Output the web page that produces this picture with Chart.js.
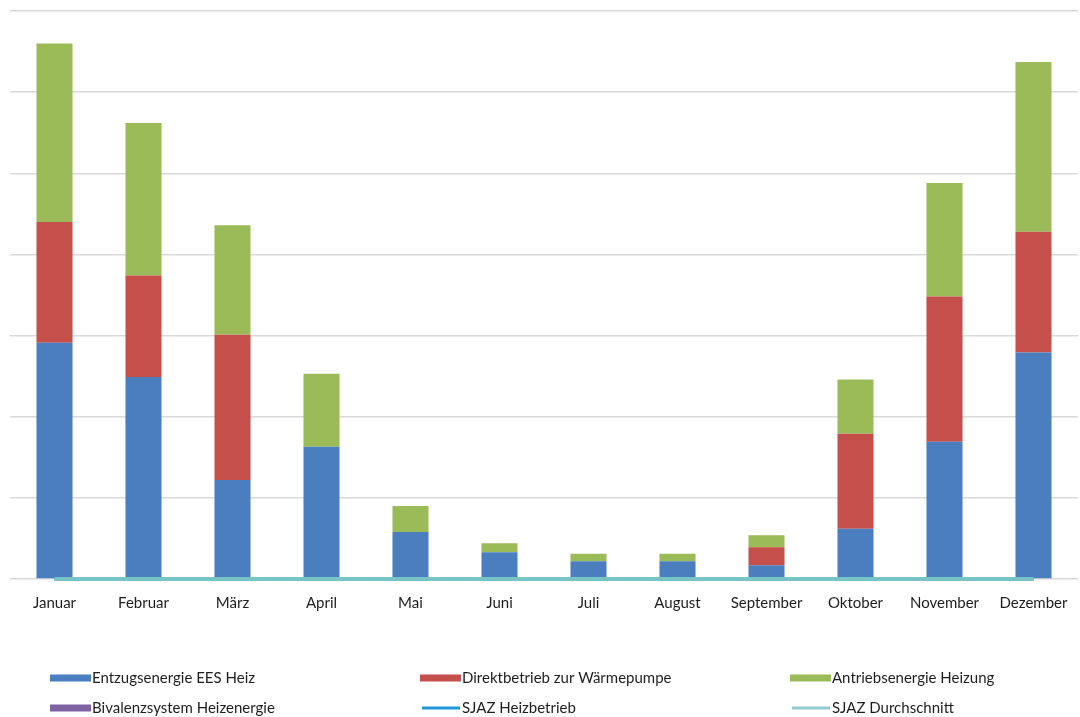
<!DOCTYPE html>
<html>
<head>
<meta charset="utf-8">
<script src="https://cdn.jsdelivr.net/npm/chart.js@4.4.1/dist/chart.umd.min.js"></script>
<style>
  html, body { margin: 0; padding: 0; background: #ffffff; }
  #wrap { position: relative; width: 1080px; height: 717px; }
  canvas { display: block; }
</style>
</head>
<body>
<div id="wrap"><canvas id="chart" width="1080" height="717"></canvas></div>
<script>
// Monthly energy balance of the heat pump (kWh)
const months = ['Januar', 'Februar', 'März', 'April', 'Mai', 'Juni', 'Juli', 'August', 'September', 'Oktober', 'November', 'Dezember'];

const entzugsenergie = [2910, 2490, 1220, 1630, 580, 330, 220, 220, 170, 620, 1690, 2790];
const direktbetrieb  = [1490, 1250, 1790, 0, 0, 0, 0, 0, 220, 1170, 1790, 1490];
const antriebsenergie = [2200, 1880, 1350, 900, 320, 110, 90, 90, 150, 670, 1400, 2090];
const bivalenzsystem = [0, 0, 0, 0, 0, 0, 0, 0, 0, 0, 0, 0];
const sjazHeizbetrieb = [0, 0, 0, 0, 0, 0, 0, 0, 0, 0, 0, 0];
const sjazDurchschnitt = [0, 0, 0, 0, 0, 0, 0, 0, 0, 0, 0, 0];

const yMax = 7000;
const yStep = 1000;

const FONT = 'Lato, "Liberation Sans", sans-serif';

// Legend laid out as a 3 x 2 grid under the plot
const legendGrid = {
  id: 'legendGrid',
  afterDraw(chart) {
    const ctx = chart.ctx;
    const cols = [50, 420, 790];
    const rows = [678, 708];
    ctx.save();
    ctx.font = '15px ' + FONT;
    ctx.textBaseline = 'middle';
    ctx.textAlign = 'left';
    chart.data.datasets.forEach((ds, i) => {
      const x = cols[i % 3];
      const y = rows[Math.floor(i / 3)];
      ctx.fillStyle = ds.legendColor;
      if (ds.type === 'line') {
        ctx.fillRect(x + 2, y - 1.5, 38, 3);
      } else {
        ctx.fillRect(x, y - 3.5, 41, 7);
      }
      ctx.fillStyle = '#1e1e1e';
      ctx.fillText(ds.label, x + 42, y);
    });
    ctx.restore();
  }
};

new Chart(document.getElementById('chart'), {
  data: {
    labels: months,
    datasets: [
      { type: 'bar', label: 'Entzugsenergie EES Heiz', data: entzugsenergie, backgroundColor: '#4a7ebf', legendColor: '#4a7ebf', stack: 'e', order: 2 },
      { type: 'bar', label: 'Direktbetrieb zur Wärmepumpe', data: direktbetrieb, backgroundColor: '#c44f4b', legendColor: '#c44f4b', stack: 'e', order: 2 },
      { type: 'bar', label: 'Antriebsenergie Heizung', data: antriebsenergie, backgroundColor: '#9bbb59', legendColor: '#9bbb59', stack: 'e', order: 2 },
      { type: 'bar', label: 'Bivalenzsystem Heizenergie', data: bivalenzsystem, backgroundColor: '#7f63a1', legendColor: '#7f63a1', stack: 'e', order: 2 },
      { type: 'line', label: 'SJAZ Heizbetrieb', data: sjazHeizbetrieb, yAxisID: 'y1', borderColor: '#1f97d8', legendColor: '#1f97d8', borderWidth: 3, pointRadius: 0, order: 1, clip: false },
      { type: 'line', label: 'SJAZ Durchschnitt', data: sjazDurchschnitt, yAxisID: 'y1', borderColor: '#78c3c6', legendColor: '#94cbd0', borderWidth: 4, pointRadius: 0, order: 0, clip: false }
    ]
  },
  options: {
    responsive: false,
    animation: false,
    layout: { padding: { top: 11, left: 10, right: 2, bottom: 98 } },
    datasets: { bar: { barPercentage: 0.405, categoryPercentage: 1 } },
    plugins: {
      legend: { display: false },
      tooltip: { enabled: false },
      title: { display: false }
    },
    scales: {
      x: {
        stacked: true,
        grid: { display: false },
        border: { display: false },
        ticks: { color: '#1e1e1e', font: { family: FONT, size: 15 }, padding: 7, maxRotation: 0, autoSkip: false }
      },
      y: {
        stacked: true,
        min: 0,
        max: yMax,
        ticks: { stepSize: yStep, display: false },
        grid: { color: '#d9d9d9', lineWidth: 1.5, drawTicks: false },
        border: { display: false }
      },
      y1: {
        position: 'right',
        min: 0,
        max: 7,
        display: false
      }
    }
  },
  plugins: [legendGrid]
});
</script>
</body>
</html>
